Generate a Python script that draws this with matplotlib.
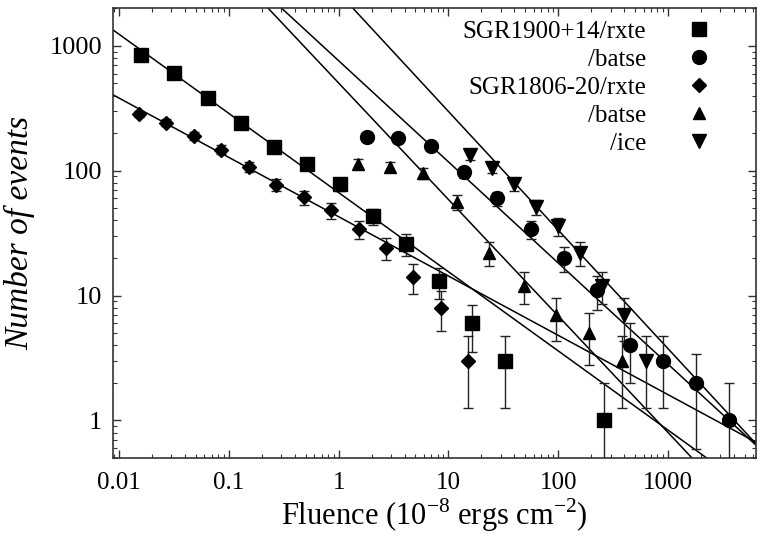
#!/usr/bin/env python
#
#   cumulative fluence distributions of SGR bursts, log-log with power-law fits
#
import numpy as np
import matplotlib
matplotlib.use('agg')
import matplotlib.pyplot as plt
from matplotlib.lines import Line2D
from matplotlib.ticker import FixedLocator, FixedFormatter, LogLocator, NullFormatter

plt.rcParams['font.family'] = ['Liberation Serif', 'DejaVu Serif']
plt.rcParams['mathtext.fontset'] = 'custom'
plt.rcParams['mathtext.rm'] = 'Liberation Serif'

# SGR1900+14 / rxte
sq_x = [0.016, 0.032, 0.064, 0.128, 0.256, 0.512, 1.02, 2.05, 4.1, 8.2, 16.4, 32.8, 262]
sq_y = [850, 610, 385, 240, 155, 113, 78, 43, 26, 13, 6, 3, 1]
# SGR1900+14 / batse
ci_x = [1.8, 3.5, 7.0, 14, 28, 56, 113, 225, 450, 900, 1800, 3600]
ci_y = [187, 184, 158, 98, 60, 34, 20, 11, 4, 3, 2, 1]
# SGR1806-20 / rxte
di_x = [0.0152, 0.027, 0.048, 0.085, 0.152, 0.27, 0.48, 0.85, 1.52, 2.7, 4.8, 8.5, 15.2]
di_y = [286, 242, 190, 147, 108, 77, 61, 48, 34, 24, 14, 8, 3]
# SGR1806-20 / batse
tr_x = [1.49, 2.96, 5.9, 11.9, 23.3, 48.5, 95.6, 191, 381]
tr_y = [114, 108, 95, 56, 22, 12, 7, 5, 3]
# SGR1806-20 / ice
ic_x = [15.8, 25.1, 39.8, 63, 100, 158, 251, 398, 631]
ic_y = [134, 106, 78, 51, 36, 22, 12, 7, 3]

# power-law fits: N(>S) = norm * S^-index
fit_norm = [66.8, 760, 42.8, 504, 2660]
fit_index = [0.634, 0.81, 0.475, 0.933, 0.95]

labels = ['SGR1900+14/rxte', '/batse', 'SGR1806-20/rxte', '/batse', '/ice']
markers = ['s', 'o', 'D', '^', 'v']
msizes = [10.3, 10, 6.8, 9, 9.5]

fig = plt.figure(figsize=(7.58, 5.38), dpi=100)
ax = fig.add_axes([0.149, 0.1487, 0.849, 0.836])
ax.set_xscale('log')
ax.set_yscale('log')
ax.set_xlim(0.0088, 6400)
ax.set_ylim(0.5, 2000)

xs = np.logspace(-2.2, 4.0, 60)
for a, k in zip(fit_norm, fit_index):
    ax.plot(xs, a * xs ** (-k), color='black', lw=1.1, zorder=2)

series = [(sq_x, sq_y), (ci_x, ci_y), (di_x, di_y), (tr_x, tr_y), (ic_x, ic_y)]
handles = []
for (x, y), lab, m, ms in zip(series, labels, markers, msizes):
    y = np.array(y, dtype=float)
    err = np.sqrt(y)
    lower = np.minimum(err, y - 1e-3)
    ax.errorbar(x, y, yerr=[lower, err], fmt=m, ms=ms, color='black',
                ecolor='#222222', elinewidth=1.0, capsize=3.5, capthick=1.0,
                zorder=3)
    handles.append(Line2D([], [], ls='none', marker=m, ms=ms, color='black', label=lab))

ax.xaxis.set_major_locator(FixedLocator([0.01, 0.1, 1, 10, 100, 1000]))
ax.xaxis.set_major_formatter(FixedFormatter(['0.01', '0.1', '1', '10', '100', '1000']))
ax.yaxis.set_major_locator(FixedLocator([1, 10, 100, 1000]))
ax.yaxis.set_major_formatter(FixedFormatter(['1', '10', '100', '1000']))
ax.xaxis.set_minor_locator(LogLocator(subs=np.arange(2, 10), numticks=20))
ax.yaxis.set_minor_locator(LogLocator(subs=np.arange(2, 10), numticks=20))
ax.xaxis.set_minor_formatter(NullFormatter())
ax.yaxis.set_minor_formatter(NullFormatter())

ax.tick_params(which='both', direction='in', top=True, right=True, color='#333333')
ax.tick_params(which='major', length=6, width=1.0)
ax.tick_params(which='minor', length=3, width=0.8)
ax.tick_params(axis='x', labelsize=18, pad=10)
ax.tick_params(axis='y', labelsize=19, pad=8)
for s in ax.spines.values():
    s.set_color('#333333')
    s.set_linewidth(1.2)

ax.set_xlabel(r'Fluence (10$^{\mathrm{-8}}$ ergs cm$^{\mathrm{-2}}$)', fontsize=22, labelpad=2)
ax.set_ylabel('Number of events', fontsize=24, style='italic', labelpad=10)

ax.legend(handles=handles, loc='upper right', bbox_to_anchor=(711 / 758, 1 - 20 / 538),
          bbox_transform=fig.transFigure, frameon=False, markerfirst=False,
          fontsize=18, handlelength=1.0, handletextpad=1.6, labelspacing=0.22,
          borderpad=0, borderaxespad=0, numpoints=1)

plt.savefig('out.png', dpi=100)
print("Wrote out.png")
